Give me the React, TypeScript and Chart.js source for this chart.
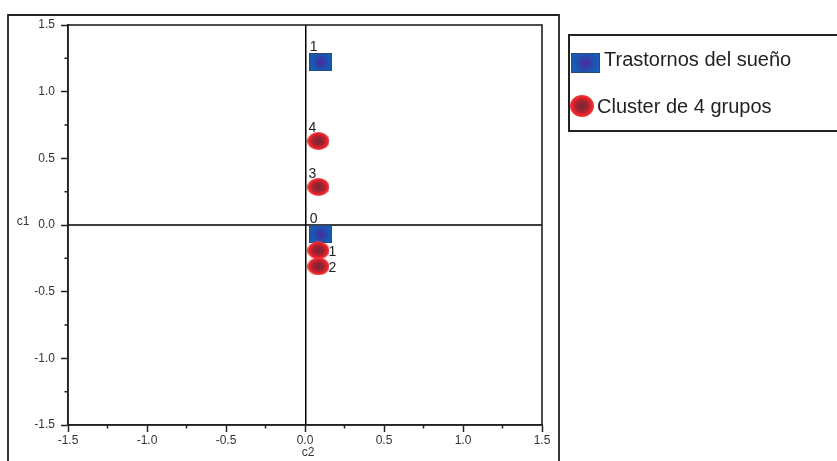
import React, { useEffect, useRef } from "react";
import { Chart, registerables } from "chart.js";

Chart.register(...registerables);

// ---- data ----
const seriesNames = ["Trastornos del sueño", "Cluster de 4 grupos"];
const sleepX = [0.1, 0.1];
const sleepY = [1.22, -0.07];
const sleepLabels = ["1", "0"];
const clusterX = [0.085, 0.085, 0.085, 0.085];
const clusterY = [0.63, 0.285, -0.19, -0.31];
const clusterLabels = ["4", "3", "1", "2"];
const axisMin = -1.5;
const axisMax = 1.5;
const majorStep = 0.5;
const minorStep = 0.25;
const xTitle = "c2";
const yTitle = "c1";

// ---- styles ----
const FONT = "'Liberation Sans', Arial, sans-serif";
const sleepLabelPos = ["above", "above"];
const clusterLabelPos = ["above", "above", "right", "right"];

function makeSquare(w: number, h: number) {
  const c = document.createElement("canvas");
  c.width = w;
  c.height = h;
  const g = c.getContext("2d")!;
  const grad = g.createRadialGradient(w / 2, h / 2, 0, w / 2, h / 2, w / 2);
  grad.addColorStop(0, "#4a2a9a");
  grad.addColorStop(0.6, "#2050b0");
  grad.addColorStop(1, "#1560b8");
  g.fillStyle = grad;
  g.fillRect(0, 0, w, h);
  g.strokeStyle = "#2a4a7a";
  g.lineWidth = 1;
  g.strokeRect(0.5, 0.5, w - 1, h - 1);
  return c;
}

function makeEllipse(w: number, h: number) {
  const c = document.createElement("canvas");
  c.width = w;
  c.height = h;
  const g = c.getContext("2d")!;
  g.save();
  g.translate(w / 2, h / 2);
  g.scale(1, h / w);
  const r = w / 2;
  const grad = g.createRadialGradient(0, 0, 0, 0, 0, r);
  grad.addColorStop(0, "#7a2535");
  grad.addColorStop(0.45, "#9a2532");
  grad.addColorStop(0.75, "#e0202a");
  grad.addColorStop(1, "#f23a3c");
  g.fillStyle = grad;
  g.beginPath();
  g.arc(0, 0, r, 0, Math.PI * 2);
  g.fill();
  g.restore();
  return c;
}

export default function App() {
  const ref = useRef<HTMLCanvasElement | null>(null);

  useEffect(() => {
    const canvas = ref.current;
    if (!canvas) return;
    const sq = makeSquare(23, 18);
    const el = makeEllipse(22, 18);
    const legendSq = makeSquare(29, 20);
    const legendEl = makeEllipse(24, 22);

    const overlay = {
      id: "overlay",
      beforeDatasetsDraw(chart: any) {
        const ctx = chart.ctx;
        const { left, right, top, bottom } = chart.chartArea;
        const xs = chart.scales.x;
        const ys = chart.scales.y;
        ctx.save();
        // zero lines
        ctx.strokeStyle = "#000";
        ctx.lineWidth = 1.5;
        const x0 = Math.round(xs.getPixelForValue(0)) + 0.75;
        const y0 = Math.round(ys.getPixelForValue(0));
        ctx.beginPath();
        ctx.moveTo(x0, top);
        ctx.lineTo(x0, bottom);
        ctx.moveTo(left, y0);
        ctx.lineTo(right, y0);
        ctx.stroke();
        ctx.restore();
      },
      afterDraw(chart: any) {
        const ctx = chart.ctx;
        const { left, right, top, bottom } = chart.chartArea;
        const xs = chart.scales.x;
        const ys = chart.scales.y;
        ctx.save();
        // plot box
        ctx.strokeStyle = "#222";
        ctx.lineWidth = 1.6;
        ctx.strokeRect(left, top, right - left, bottom - top);
        // minor ticks
        ctx.lineWidth = 1.5;
        for (let v = axisMin + minorStep; v < axisMax; v += majorStep) {
          const px = xs.getPixelForValue(v);
          const py = ys.getPixelForValue(v);
          ctx.beginPath();
          ctx.moveTo(px, bottom);
          ctx.lineTo(px, bottom + 3.5);
          ctx.moveTo(left, py);
          ctx.lineTo(left - 3.5, py);
          ctx.stroke();
        }
        // outer frame
        ctx.strokeStyle = "#222";
        ctx.lineWidth = 1.8;
        ctx.beginPath();
        ctx.moveTo(8, 470);
        ctx.lineTo(8, 15);
        ctx.lineTo(559, 15);
        ctx.lineTo(559, 470);
        ctx.stroke();
        // axis titles
        ctx.fillStyle = "#333";
        ctx.font = `12px ${FONT}`;
        ctx.textAlign = "center";
        ctx.textBaseline = "middle";
        ctx.fillText(xTitle, xs.getPixelForValue(0) + 3, 453);
        ctx.fillText(yTitle, 23, ys.getPixelForValue(0) - 3);

        // point labels
        ctx.fillStyle = "#222";
        ctx.font = `14px ${FONT}`;
        const drawLabels = (
          xsArr: number[],
          ysArr: number[],
          labels: string[],
          pos: string[],
          halfW: number,
          aboveOff: number
        ) => {
          labels.forEach((t, i) => {
            const px = xs.getPixelForValue(xsArr[i]);
            const py = ys.getPixelForValue(ysArr[i]);
            if (pos[i] === "above") {
              ctx.textAlign = "left";
              ctx.textBaseline = "alphabetic";
              ctx.fillText(t, px - halfW, py - aboveOff);
            } else {
              ctx.textAlign = "left";
              ctx.textBaseline = "middle";
              ctx.fillText(t, px + halfW, py + 1.5);
            }
          });
        };
        drawLabels(sleepX, sleepY, sleepLabels, sleepLabelPos, 11, 11);
        drawLabels(clusterX, clusterY, clusterLabels, clusterLabelPos, 10, 9);

        // legend
        ctx.strokeStyle = "#222";
        ctx.lineWidth = 2;
        ctx.strokeRect(569, 35, 280, 96);
        ctx.drawImage(legendSq, 571, 53);
        ctx.drawImage(legendEl, 570, 95);
        ctx.fillStyle = "#222";
        ctx.font = `20px ${FONT}`;
        ctx.textAlign = "left";
        ctx.textBaseline = "middle";
        ctx.fillText(seriesNames[0], 604, 60);
        ctx.fillText(seriesNames[1], 597, 107);
        ctx.restore();
      },
    };

    const axisCommon = (isY: boolean) => ({
      type: "linear" as const,
      min: axisMin,
      max: axisMax,
      grid: {
        drawOnChartArea: false,
        drawTicks: true,
        tickLength: 7,
        tickWidth: 1.5,
        tickColor: "#222",
      },
      border: { display: true, color: "#222", width: 1.6 },
      ticks: {
        stepSize: majorStep,
        color: "#333",
        font: { family: FONT, size: 12 },
        padding: isY ? 6 : 1,
        maxRotation: 0,
        autoSkip: false,
        callback: (v: any) => Number(v).toFixed(1),
      },
      afterFit: (s: any) => {
        if (isY) s.width = 68;
        else s.height = 36;
      },
    });

    const chart = new Chart(canvas, {
      type: "scatter",
      data: {
        datasets: [
          {
            label: seriesNames[1],
            data: clusterX.map((x, i) => ({ x, y: clusterY[i] })),
            pointStyle: el as any,
            pointRadius: 11,
          },
          {
            label: seriesNames[0],
            data: sleepX.map((x, i) => ({ x, y: sleepY[i] })),
            pointStyle: sq as any,
            pointRadius: 11,
          },
        ],
      },
      options: {
        animation: false,
        responsive: false,
        maintainAspectRatio: false,
        layout: { padding: { left: 0, top: 25, right: 295, bottom: 0 } },
        plugins: {
          legend: { display: false },
          tooltip: { enabled: false },
        },
        scales: {
          x: axisCommon(false),
          y: axisCommon(true),
        },
      },
      plugins: [overlay],
    });
    return () => chart.destroy();
  }, []);

  return (
    <div style={{ position: "absolute", left: 0, top: 0, width: 837, height: 461, background: "#fff" }}>
      <canvas ref={ref} width={837} height={461} style={{ display: "block" }} />
    </div>
  );
}
